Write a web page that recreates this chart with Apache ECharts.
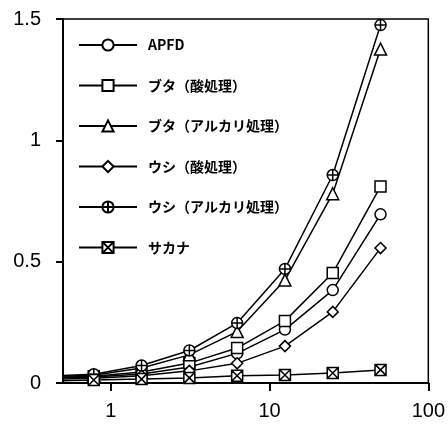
<!DOCTYPE html>
<html>
<head>
<meta charset="utf-8">
<script src="https://cdn.jsdelivr.net/npm/echarts@6/dist/echarts.min.js"></script>
<style>html,body{margin:0;padding:0;background:#fff;}#c{width:448px;height:424px;}</style>
</head>
<body>
<div id="c"></div>
<script>
const xValues = [0.390625, 0.78125, 1.5625, 3.125, 6.25, 12.5, 25, 50];
const seriesNames = ['APFD', 'ブタ（酸処理）', 'ブタ（アルカリ処理）', 'ウシ（酸処理）', 'ウシ（アルカリ処理）', 'サカナ'];
const apfd        = [0.020, 0.025, 0.037, 0.066, 0.122, 0.220, 0.383, 0.695];
const butaAcid    = [0.022, 0.028, 0.045, 0.082, 0.144, 0.256, 0.453, 0.810];
const butaAlkali  = [0.026, 0.032, 0.062, 0.116, 0.212, 0.424, 0.780, 1.376];
const ushiAcid    = [0.015, 0.020, 0.030, 0.050, 0.081, 0.152, 0.293, 0.556];
const ushiAlkali  = [0.028, 0.036, 0.072, 0.134, 0.247, 0.470, 0.857, 1.475];
const sakana      = [0.008, 0.012, 0.016, 0.021, 0.030, 0.033, 0.041, 0.054];
const yTicks = [0, 0.5, 1, 1.5];
const xTicks = [1, 10, 100];

const allValues = [apfd, butaAcid, butaAlkali, ushiAcid, ushiAlkali, sakana];
const symbols = [
  'circle', 'rect', 'triangle', 'diamond',
  'path://M0,-10 A10,10 0 1,1 0,10 A10,10 0 1,1 0,-10 Z M-10,0 L10,0 M0,-10 L0,10',
  'path://M-10,-10 L10,-10 L10,10 L-10,10 Z M-10,-10 L10,10 M10,-10 L-10,10'
];
const sizes = [11, 11, 12, 11, 11, 11];

const chart = echarts.init(document.getElementById('c'), null, {renderer: 'canvas'});
const series = seriesNames.map((name, i) => ({
  name: name,
  type: 'line',
  data: xValues.map((x, j) => [x, allValues[i][j]]),
  symbol: symbols[i],
  symbolSize: sizes[i],
  showAllSymbol: true,
  clip: true,
  lineStyle: {color: '#000', width: 1.5},
  itemStyle: {color: '#fff', borderColor: '#000', borderWidth: 1.5},
  emphasis: {disabled: true},
  z: 2 + i
}));

chart.setOption({
  animation: false,
  backgroundColor: '#fff',
  grid: {left: 63, top: 19, right: 14, bottom: 41, show: true, borderColor: '#000', borderWidth: 1.5, backgroundColor: 'transparent'},
  legend: {
    orient: 'vertical',
    left: 73,
    top: 33,
    itemWidth: 58,
    itemHeight: 14,
    itemGap: 26.5,
    data: seriesNames,
    textStyle: {color: '#000', fontSize: 14, fontWeight: 'bold', fontFamily: '"Noto Sans CJK JP", sans-serif', padding: [0, 0, 0, 6]}
  },
  xAxis: {
    type: 'log',
    logBase: 10,
    min: 0.5,
    max: 100,
    axisLine: {show: true, lineStyle: {color: '#000', width: 2}},
    axisTick: {show: true, inside: false, length: 8, lineStyle: {color: '#000', width: 2, opacity: 1}, customValues: xTicks},
    axisLabel: {color: '#000', fontSize: 20, fontFamily: '"Liberation Sans", Arial, sans-serif', margin: 18, customValues: xTicks},
    splitLine: {show: false},
    minorTick: {show: false}
  },
  yAxis: {
    type: 'value',
    min: 0,
    max: 1.5,
    interval: 0.5,
    axisLine: {show: true, lineStyle: {color: '#000', width: 2}},
    axisTick: {show: true, inside: false, length: 7, lineStyle: {color: '#000', width: 2, opacity: 1}},
    axisLabel: {color: '#000', fontSize: 20, fontFamily: '"Liberation Sans", Arial, sans-serif', margin: 22, formatter: v => String(v)},
    splitLine: {show: false}
  },
  series: series
});
</script>
</body>
</html>
